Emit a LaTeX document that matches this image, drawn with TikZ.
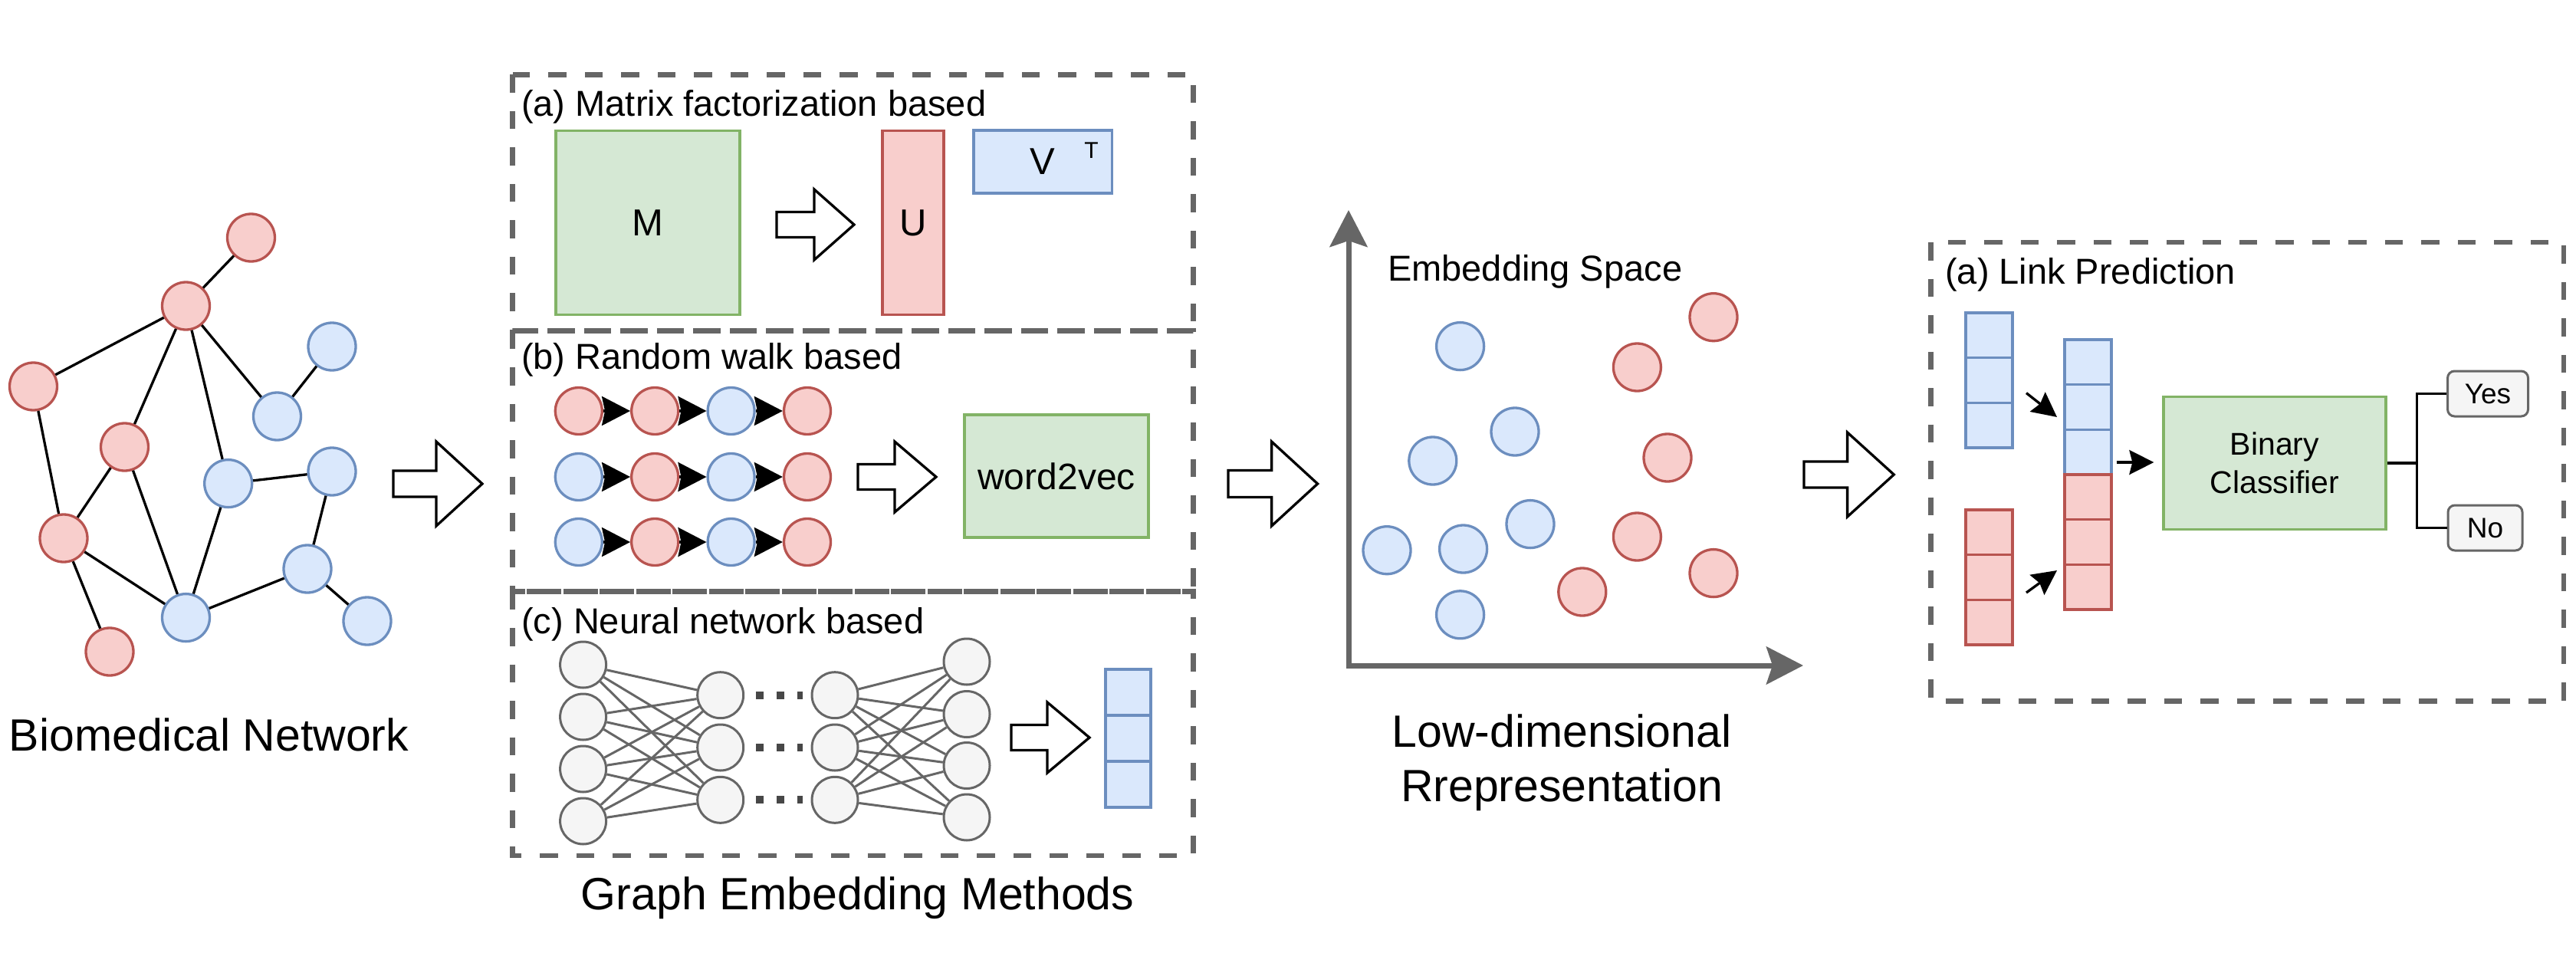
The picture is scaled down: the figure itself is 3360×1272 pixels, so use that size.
\documentclass[tikz,border=0pt]{standalone}
\usepackage{fontspec}
\setmainfont{Liberation Sans}
\usetikzlibrary{arrows.meta}
\definecolor{redF}{HTML}{F8CECC}
\definecolor{redS}{HTML}{B85450}
\definecolor{bluF}{HTML}{DAE8FC}
\definecolor{bluS}{HTML}{6C8EBF}
\definecolor{grnF}{HTML}{D5E8D4}
\definecolor{grnS}{HTML}{82B366}
\definecolor{gryF}{HTML}{F5F5F5}
\definecolor{gryS}{HTML}{666666}
\newcommand{\harrow}[6]{\draw[hollowarrow] (#1,#2) ++(0,-#5) -- ++(#3,0) -- ++(0,{#5-#6}) -- ++(#4,#6) -- ++(-#4,#6) -- ++(0,{#5-#6}) -- ++(-#3,0) -- cycle;}
\tikzset{
  rn/.style={circle, draw=redS, fill=redF, line width=3.3, minimum size=62, inner sep=0},
  bn/.style={circle, draw=bluS, fill=bluF, line width=3.3, minimum size=62, inner sep=0},
  rw/.style={rn, minimum size=61},
  bw/.style={bn, minimum size=61},
  nn/.style={circle, draw=gryS, fill=gryF, line width=3, minimum size=60, inner sep=0},
  nnedge/.style={draw=gryS, line width=3},
  bioedge/.style={draw=black, line width=3.3},
  hollowarrow/.style={draw=black, fill=white, line width=3.3, line join=miter},
  dbox/.style={draw=gryS, line width=6.5, dash pattern=on 23.5 off 24},
  gbox/.style={draw=grnS, fill=grnF, line width=3.3, inner sep=0},
  rbox/.style={draw=redS, fill=redF, line width=3.3, inner sep=0},
  bbox/.style={draw=bluS, fill=bluF, line width=3.3, inner sep=0},
  bcell/.style={bbox, minimum width=61, minimum height=58.7},
  rcell/.style={rbox, minimum width=61, minimum height=58.7},
  ncell/.style={bbox, minimum width=59, minimum height=60},
  ybox/.style={draw=gryS, fill=gryF, line width=3, rounded corners=9, inner sep=0, minimum height=59},
  tbig/.style={font=\fontsize{59}{70}\selectfont, inner sep=0},
  tmid/.style={font=\fontsize{47}{56}\selectfont, inner sep=0},
  walkarrow/.style={draw=black, line width=3.3, -{Stealth[length=37, width=38, inset=4]}},
  smallarrow/.style={draw=black, line width=3.3, -{Stealth[length=32, width=32, inset=4]}},
  axis/.style={draw=gryS, line width=7, {Stealth[length=48, width=49, inset=8]}-{Stealth[length=48, width=49, inset=8]}},
  dots/.style={draw=gryS!70!black, line width=10, dash pattern=on 10 off 17}
}
\begin{document}
\begin{tikzpicture}[x=1pt,y=-1pt]
\useasboundingbox (0,0) rectangle (3360,1272);
\fill[white] (0,0) rectangle (3360,1272);

% ---------------- Biomedical network ----------------
\node[rn] (r1) at (327.5,310) {};
\node[rn] (r2) at (242.5,399) {};
\node[rn] (r3) at (43.5,504) {};
\node[bn] (b1) at (433,452) {};
\node[bn] (b2) at (361.5,543) {};
\node[rn] (r4) at (162.5,583) {};
\node[bn] (b3) at (297.7,630.6) {};
\node[bn] (b4) at (433,615) {};
\node[rn] (r5) at (83,702) {};
\node[bn] (b5) at (401,742) {};
\node[bn] (b6) at (242.5,805.6) {};
\node[bn] (b7) at (479,810) {};
\node[rn] (r6) at (143,850) {};
\foreach \a/\b in {r1/r2, r2/r3, r2/r4, r2/b3, r2/b2, b2/b1, r3/r5, r4/r5, r4/b6, b3/b6, b3/b4, b4/b5, r5/b6, r5/r6, b6/b5, b5/b7}
  \draw[bioedge] (\a) -- (\b);
\node[tbig, anchor=base west] (biolbl) at (11.7,979.3) {Biomedical Network};

\harrow{513}{631}{56}{60}{17}{55}

% ---------------- Graph embedding methods ----------------
\draw[dbox] (668.7,97.3) rectangle (1556.7,431.7);
\draw[dbox] (668.7,431.7) rectangle (1556.7,771.7);
\draw[dbox] (668.7,771.7) rectangle (1556.7,1116);

% (a)
\node[tmid, anchor=base west] (la) at (680,151.7) {(a) Matrix factorization based};
\node[gbox, minimum width=240, minimum height=240, font=\fontsize{49}{58}\selectfont] (M) at (845,290.7) {M};
\harrow{1013}{293}{49}{52}{16.5}{46}
\node[rbox, minimum width=80, minimum height=240, font=\fontsize{49}{58}\selectfont] (U) at (1191,290.7) {U};
\node[bbox, minimum width=180.7, minimum height=82, font=\fontsize{49}{58}\selectfont] (V) at (1360.3,211) {V};
\node[font=\fontsize{30}{36}\selectfont, inner sep=0] (VT) at (1423.5,196) {T};

% (b)
\node[tmid, anchor=base west] (lb) at (680,481.7) {(b) Random walk based};
\node[rw] (w11) at (754.8,536) {};
\node[rw] (w12) at (854.2,536) {};
\node[bw] (w13) at (953.6,536) {};
\node[rw] (w14) at (1053,536) {};
\node[bw] (w21) at (754.8,622) {};
\node[rw] (w22) at (854.2,622) {};
\node[bw] (w23) at (953.6,622) {};
\node[rw] (w24) at (1053,622) {};
\node[bw] (w31) at (754.8,707) {};
\node[rw] (w32) at (854.2,707) {};
\node[bw] (w33) at (953.6,707) {};
\node[rw] (w34) at (1053,707) {};
\foreach \r in {1,2,3} {
  \draw[walkarrow] (w\r1) -- (w\r2);
  \draw[walkarrow] (w\r2) -- (w\r3);
  \draw[walkarrow] (w\r3) -- (w\r4);
}
\harrow{1119}{622}{48}{54}{16.5}{46}
\node[gbox, minimum width=240, minimum height=160, font=\fontsize{48}{58}\selectfont] (w2v) at (1378,621) {word2vec};

% (c)
\node[tmid, anchor=base west] (lc) at (680,826.7) {(c) Neural network based};
\node[nn] (n11) at (760.6,867) {};
\node[nn] (n12) at (760.6,935) {};
\node[nn] (n13) at (760.6,1003) {};
\node[nn] (n14) at (760.6,1071) {};
\node[nn] (n21) at (939.7,906.7) {};
\node[nn] (n22) at (939.7,975) {};
\node[nn] (n23) at (939.7,1043.3) {};
\node[nn] (n31) at (1089,906.7) {};
\node[nn] (n32) at (1089,975) {};
\node[nn] (n33) at (1089,1043.3) {};
\node[nn] (n41) at (1261,863) {};
\node[nn] (n42) at (1261,931.5) {};
\node[nn] (n43) at (1261,998.5) {};
\node[nn] (n44) at (1261,1066) {};
\foreach \i in {1,2,3,4} \foreach \j in {1,2,3} {
  \draw[nnedge] (n1\i) -- (n2\j);
  \draw[nnedge] (n3\j) -- (n4\i);
}
\foreach \j in {1,2,3}
  \draw[dots, shorten <=14.7, shorten >=11] (n2\j) -- (n3\j);
\harrow{1319}{962}{47}{55}{16.5}{46}
\node[ncell] (v1) at (1471.5,903) {};
\node[ncell] (v2) at (1471.5,963) {};
\node[ncell] (v3) at (1471.5,1023) {};

\node[tbig, anchor=base west] (gelbl) at (757.7,1186) {Graph Embedding Methods};

\harrow{1602}{631}{56.6}{60}{17.5}{55}

% ---------------- Embedding space ----------------
\coordinate (orig) at (1759,868);
\coordinate (ytip) at (1759,274);
\coordinate (xtip) at (2352,868);
\draw[axis] (ytip) -- (orig) -- (xtip);
\node[tmid, anchor=base west] (eslbl) at (1810,366.5) {Embedding Space};
\node[bn] (e1) at (1904.6,451.6) {};
\node[bn] (e2) at (1976,563) {};
\node[bn] (e3) at (1868.8,601) {};
\node[bn] (e4) at (1809,717.7) {};
\node[bn] (e5) at (1908.6,716) {};
\node[bn] (e6) at (1996,683.6) {};
\node[bn] (e7) at (1904.6,801.8) {};
\node[rn] (e8) at (2235,413.7) {};
\node[rn] (e9) at (2135.4,479) {};
\node[rn] (e10) at (2175,597) {};
\node[rn] (e11) at (2135.4,700) {};
\node[rn] (e12) at (2063.8,772) {};
\node[rn] (e13) at (2235,747.6) {};
\node[tbig, anchor=base] (ld1) at (2037,974.7) {Low-dimensional};
\node[tbig, anchor=base] (ld2) at (2037,1045) {Rrepresentation};

\harrow{2353}{619}{56.6}{60.7}{17}{55}

% ---------------- Link prediction ----------------
\draw[dbox] (2518.5,316) rectangle (3344,914.5);
\node[tmid, anchor=base west] (lpt) at (2537,370) {(a) Link Prediction};
\node[bcell] (lb1) at (2594.5,437.3) {};
\node[bcell] (lb2) at (2594.5,496) {};
\node[bcell] (lb3) at (2594.5,554.7) {};
\node[rcell] (lr1) at (2594.5,694.3) {};
\node[rcell] (lr2) at (2594.5,753) {};
\node[rcell] (lr3) at (2594.5,811.7) {};
\node[bcell] (c1) at (2723.5,472.3) {};
\node[bcell] (c2) at (2723.5,531) {};
\node[bcell] (c3) at (2723.5,589.7) {};
\node[rcell] (c4) at (2723.5,648.3) {};
\node[rcell] (c5) at (2723.5,707) {};
\node[rcell] (c6) at (2723.5,765.7) {};
\coordinate (pa1) at (2643,512.6);
\coordinate (pa2) at (2683,544);
\coordinate (pb1) at (2643,773);
\coordinate (pb2) at (2683,744);
\coordinate (pc1) at (2760.6,603);
\draw[smallarrow] (pa1) -- (pa2);
\draw[smallarrow] (pb1) -- (pb2);
\node[gbox, minimum width=290, minimum height=172.6, align=center, font=\fontsize{41}{50}\selectfont] (bc) at (2967,604) {Binary\\Classifier};
\draw[smallarrow, shorten >=11] (pc1) -- (bc.west |- pc1);
\node[ybox, minimum width=105, font=\fontsize{37}{44}\selectfont] (yes) at (3245,513.5) {Yes};
\node[ybox, minimum width=97, font=\fontsize{37}{44}\selectfont] (no) at (3241.5,688.5) {No};
\draw[line width=3.3] (bc.east) -- ++(38.6,0) coordinate (split);
\draw[line width=3.3] (split) |- (yes.west);
\draw[line width=3.3] (split) |- (no.west);
\end{tikzpicture}
\end{document}
